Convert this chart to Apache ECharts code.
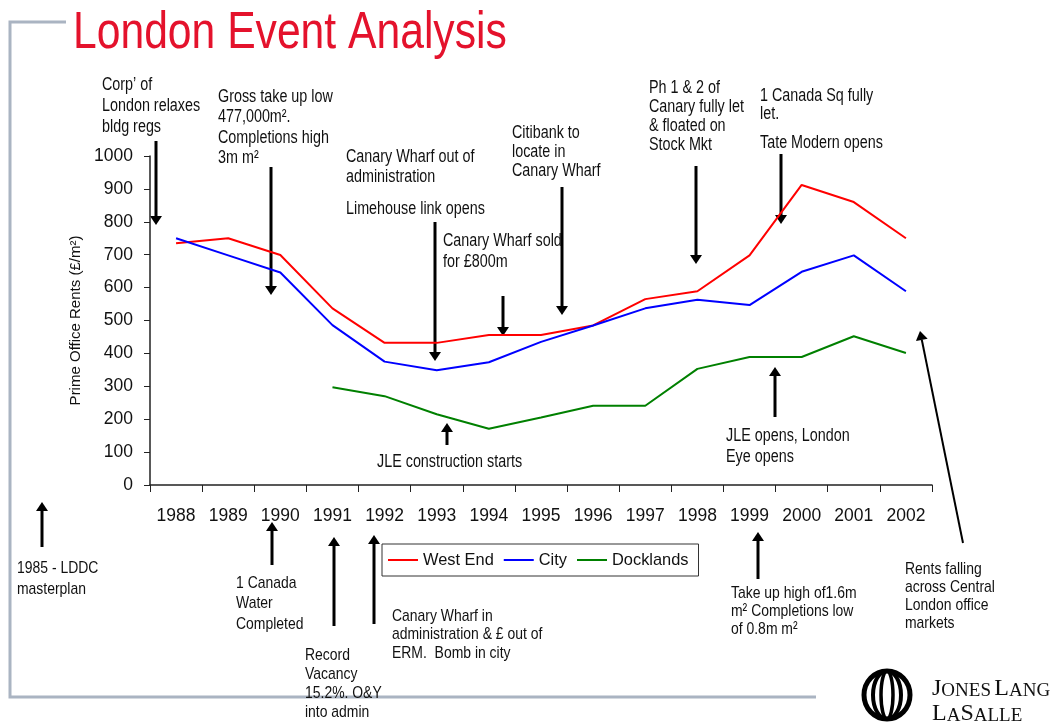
<!DOCTYPE html>
<html>
<head>
<meta charset="utf-8">
<title>London Event Analysis</title>
<script src="https://cdn.jsdelivr.net/npm/echarts@6/dist/echarts.min.js"></script>
<style>
  html, body { margin: 0; padding: 0; background: #fff; }
  #chart { width: 1058px; height: 727px; }
</style>
</head>
<body>
<div id="chart"></div>
<script>
// data
const years = ['1988', '1989', '1990', '1991', '1992', '1993', '1994', '1995',
  '1996', '1997', '1998', '1999', '2000', '2001', '2002']
const westEnd = [735, 750, 699, 537, 432, 432, 456, 456, 485, 565, 589, 698, 912, 860, 750]
const city = [750, 698, 646, 486, 375, 349, 373, 435, 485, 537, 563, 547, 648, 698, 589]
const docklands = ['-', '-', '-', 297, 270, 215, 171, 205, 241, 241, 353, 389, 389, 452, 401]
const yMin = 0
const yMax = 1000
const yStep = 100

const SANS = "'Liberation Sans', Arial, sans-serif"
const SERIF = "'Liberation Serif', 'DejaVu Serif', serif"
// no narrow face installed, so squeeze the regular one
const NARROW_SCALE = 0.82

// event notes (text blocks), first line centre y
const notes = [
  { x: 102, y: 85, lh: 21, size: 17.5, text: 'Corp’ of\nLondon relaxes\nbldg regs' },
  { x: 218, y: 97, lh: 20.5, size: 17.5, text: 'Gross take up low\n477,000m².\nCompletions high\n3m m²' },
  { x: 346, y: 157.5, lh: 20, size: 17.5, text: 'Canary Wharf out of\nadministration' },
  { x: 346, y: 209, lh: 20, size: 17.5, text: 'Limehouse link opens' },
  { x: 443, y: 241.5, lh: 21, size: 17.5, text: 'Canary Wharf sold\nfor £800m' },
  { x: 512, y: 133, lh: 19, size: 17.5, text: 'Citibank to\nlocate in\nCanary Wharf' },
  { x: 649, y: 88, lh: 19, size: 17.5, text: 'Ph 1 & 2 of\nCanary fully let\n& floated on\nStock Mkt' },
  { x: 760, y: 96, lh: 18.5, size: 17.5, text: '1 Canada Sq fully\nlet.' },
  { x: 760, y: 143, lh: 20, size: 17.5, text: 'Tate Modern opens' },
  { x: 377, y: 462, lh: 20, size: 17.5, text: 'JLE construction starts' },
  { x: 726, y: 436, lh: 21, size: 17.5, text: 'JLE opens, London\nEye opens' },
  { x: 17, y: 568, lh: 21, size: 17, text: '1985 - LDDC\nmasterplan' },
  { x: 236, y: 583, lh: 20.5, size: 17, text: '1 Canada\nWater\nCompleted' },
  { x: 305, y: 655, lh: 19, size: 17, text: 'Record\nVacancy\n15.2%. O&Y\ninto admin' },
  { x: 392, y: 616, lh: 18.5, size: 17, text: 'Canary Wharf in\nadministration & £ out of\nERM.  Bomb in city' },
  { x: 731, y: 593, lh: 18, size: 17, text: 'Take up high of1.6m\nm² Completions low\nof 0.8m m²' },
  { x: 905, y: 569, lh: 18, size: 17, text: 'Rents falling\nacross Central\nLondon office\nmarkets' },
]

// arrows: tail -> tip
const arrows = [
  [156, 141, 156, 225], [271, 167, 271, 295], [435, 222, 435, 361],
  [503, 296, 503, 336], [562, 187, 562, 315], [696, 166, 696, 264],
  [781, 154, 781, 224], [447, 445, 447, 423], [775, 417, 775, 367],
  [963, 543, 920, 331, 2], [42, 547, 42, 502], [272, 565, 272, 522],
  [334, 626, 334, 537], [374, 624, 374, 535], [758, 579, 758, 532],
]

const makeArrow = (a) => {
  const [x1, y1, x2, y2, w = 3] = a
  const len = Math.hypot(x2 - x1, y2 - y1)
  const ux = (x2 - x1) / len
  const uy = (y2 - y1) / len
  const headLen = 9
  const headHalf = 6
  const bx = x2 - ux * headLen
  const by = y2 - uy * headLen
  return [
    {
      type: 'line',
      shape: { x1: x1, y1: y1, x2: bx, y2: by },
      style: { stroke: '#000', lineWidth: w },
      silent: true,
    },
    {
      type: 'polygon',
      shape: {
        points: [
          [x2, y2],
          [bx - uy * headHalf, by + ux * headHalf],
          [bx + uy * headHalf, by - ux * headHalf],
        ],
      },
      style: { fill: '#000' },
      silent: true,
    },
  ]
}

const makeNote = (n) => ({
  type: 'text',
  x: n.x,
  y: n.y - n.lh / 2,
  scaleX: NARROW_SCALE,
  silent: true,
  style: {
    text: n.text,
    fontFamily: SANS,
    fontSize: n.size,
    lineHeight: n.lh,
    fill: '#111',
    verticalAlign: 'top',
  },
})

const logoRich = {
  b: { fontFamily: SERIF, fontSize: 24, fill: '#111' },
  s: { fontFamily: SERIF, fontSize: 19, fill: '#111', verticalAlign: 'bottom' },
}

const chart = echarts.init(document.getElementById('chart'))

const graphics = [
  // grey frame
  {
    type: 'polyline',
    shape: { points: [[66, 22], [10, 22], [10, 697], [816, 697]] },
    style: { stroke: '#aab4c2', lineWidth: 3, fill: null },
    silent: true,
  },
  {
    type: 'text',
    x: 73,
    y: 34,
    scaleX: NARROW_SCALE,
    silent: true,
    style: {
      text: 'London Event Analysis',
      fontFamily: SANS,
      fontSize: 52,
      fill: '#e4122c',
      verticalAlign: 'middle',
    },
  },
  // logo rings
  { type: 'ellipse', shape: { cx: 887, cy: 695, rx: 23, ry: 24 }, style: { stroke: '#000', lineWidth: 5, fill: null }, silent: true },
  { type: 'ellipse', shape: { cx: 887, cy: 695, rx: 14, ry: 24 }, style: { stroke: '#000', lineWidth: 4, fill: null }, silent: true },
  { type: 'ellipse', shape: { cx: 887, cy: 695, rx: 6, ry: 24 }, style: { stroke: '#000', lineWidth: 3.5, fill: null }, silent: true },
  {
    type: 'text',
    x: 932,
    y: 689,
    silent: true,
    style: { text: '{b|J}{s|ONES} {b|L}{s|ANG}', verticalAlign: 'middle', rich: logoRich },
  },
  {
    type: 'text',
    x: 932,
    y: 714,
    silent: true,
    style: { text: '{b|L}{s|A}{b|S}{s|ALLE}', verticalAlign: 'middle', rich: logoRich },
  },
]
notes.forEach((n) => graphics.push(makeNote(n)))
arrows.forEach((a) => graphics.push(...makeArrow(a)))

const option = {
  animation: false,
  textStyle: { fontFamily: SANS },
  grid: { left: 150, right: 126, top: 156, bottom: 242 },
  legend: {
    left: 382,
    top: 544,
    icon: 'rect',
    itemWidth: 30,
    itemHeight: 2,
    itemGap: 10,
    padding: [8, 10, 8, 6],
    borderColor: '#333',
    borderWidth: 1,
    textStyle: { fontFamily: SANS, fontSize: 16.4, color: '#111' },
    data: ['West End', 'City', 'Docklands'],
  },
  xAxis: {
    type: 'category',
    data: years,
    boundaryGap: true,
    axisLine: { lineStyle: { color: '#222', width: 1.5 } },
    axisTick: { show: true, length: 7, lineStyle: { color: '#222' } },
    axisLabel: { color: '#111', fontSize: 17.5, margin: 22 },
  },
  yAxis: {
    type: 'value',
    min: yMin,
    max: yMax,
    interval: yStep,
    name: 'Prime Office Rents (£/m²)',
    nameLocation: 'middle',
    nameGap: 66,
    nameTextStyle: { fontFamily: SANS, fontSize: 15, color: '#111' },
    axisLine: { show: true, lineStyle: { color: '#222', width: 1.5 } },
    axisTick: { show: true, length: 6, lineStyle: { color: '#222' } },
    axisLabel: { color: '#111', fontSize: 17.5, margin: 17, formatter: (v) => String(v) },
    splitLine: { show: false },
  },
  series: [
    {
      name: 'West End',
      type: 'line',
      data: westEnd,
      symbol: 'none',
      itemStyle: { color: '#ff0000' },
      lineStyle: { width: 2, color: '#ff0000' },
    },
    {
      name: 'City',
      type: 'line',
      data: city,
      symbol: 'none',
      itemStyle: { color: '#0000ff' },
      lineStyle: { width: 2, color: '#0000ff' },
    },
    {
      name: 'Docklands',
      type: 'line',
      data: docklands,
      symbol: 'none',
      itemStyle: { color: '#008000' },
      lineStyle: { width: 2, color: '#008000' },
    },
  ],
  graphic: graphics,
}

chart.setOption(option)
</script>
</body>
</html>
